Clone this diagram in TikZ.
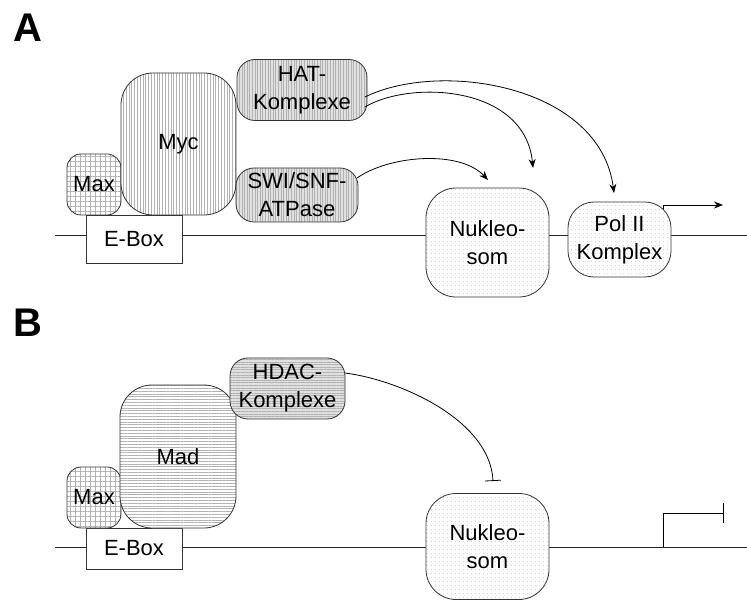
\documentclass[tikz,border=0pt]{standalone}
\usepackage{fontspec}
\setmainfont{Liberation Sans}
\usetikzlibrary{patterns.meta,arrows.meta}
\begin{document}
\begin{tikzpicture}[x=1pt,y=-1pt,
  every node/.style={font=\fontsize{22}{28}\selectfont, align=center, inner sep=0pt},
  prot/.style={draw=black!80, line width=0.8pt, rounded corners=#1},
  prot/.default=14pt,
  gridfill/.style={preaction={fill=white}, pattern={Hatch[distance=5pt,line width=0.4pt]}, pattern color=black!30},
  vfill/.style={preaction={fill=white}, pattern={Lines[angle=90,distance=2.8pt,line width=0.4pt]}, pattern color=black!30},
  vgray/.style={preaction={fill=black!12}, pattern={Lines[angle=90,distance=2.6pt,line width=0.4pt]}, pattern color=black!30},
  hfill/.style={preaction={fill=white}, pattern={Lines[angle=0,distance=2.8pt,line width=0.4pt]}, pattern color=black!30},
  hgray/.style={preaction={fill=black!12}, pattern={Lines[angle=0,distance=2.6pt,line width=0.4pt]}, pattern color=black!30},
  dotfill/.style={preaction={fill=white}, pattern={Dots[distance=4pt,radius=0.35pt]}, pattern color=black!40},
  dna/.style={line width=0.8pt, draw=black!85},
  act/.style={line width=0.8pt, -{Stealth[length=9pt,width=7pt]}},
  inh/.style={line width=0.8pt, -{Bar[width=16pt]}},
  panel/.style={font=\fontsize{40}{40}\selectfont\bfseries}
]
\useasboundingbox (0,0) rectangle (747,601);

% ---------- Panel A ----------
\node[panel] (labA) at (27.5,27.5) {A};
\coordinate (dnaAl) at (55,235);
\coordinate (dnaAr) at (747,235);
\draw[dna] (dnaAl) -- (dnaAr);
\coordinate (promA) at (663,235);
\coordinate (promAt) at (723,205);
\draw[act] (promA) |- (promAt);

\node[draw=black!80, line width=0.8pt, fill=white, minimum width=96pt, minimum height=48pt] (eboxA) at (134,239) {E-Box};
\node[prot=14pt, gridfill, minimum width=54pt, minimum height=61pt] (maxA) at (94,184.5) {Max};
\node[prot=32pt, vfill, minimum width=115pt, minimum height=142pt] (myc) at (178.5,144) {Myc};
\node[prot=18pt, vgray, minimum width=130pt, minimum height=61pt] (hat) at (302,90) {HAT-\\Komplexe};
\node[prot=18pt, vgray, minimum width=122pt, minimum height=54pt] (swi) at (297,195) {SWI/SNF-\\ATPase};
\node[prot=30pt, dotfill, minimum width=123pt, minimum height=109pt] (nucA) at (487.5,242.5) {Nukleo-\\som};
\node[prot=26pt, dotfill, minimum width=103pt, minimum height=75pt] (pol) at (619.5,239.5) {Pol II\\Komplex};

\coordinate (hatA1) at (365,97);
\coordinate (hatA2) at (365,107);
\coordinate (swiA) at (357,178);
\coordinate (tgt1) at (533,168);
\coordinate (tgt2) at (614,193);
\coordinate (tgt3) at (488,180);
\draw[act] (hatA1) .. controls (440,60) and (600,85) .. (tgt2);
\draw[act] (hatA2) .. controls (410,80) and (525,85) .. (tgt1);
\draw[act] (swiA) .. controls (390,155) and (460,150) .. (tgt3);

% ---------- Panel B ----------
\node[panel] (labB) at (28,322.5) {B};
\coordinate (dnaBl) at (55,547);
\coordinate (dnaBr) at (747,547);
\draw[dna] (dnaBl) -- (dnaBr);
\coordinate (promB) at (663,547);
\coordinate (promBt) at (724,513);
\draw[line width=0.8pt, -{Bar[width=20pt]}] (promB) |- (promBt);

\node[draw=black!80, line width=0.8pt, fill=white, minimum width=96pt, minimum height=41pt] (eboxB) at (134,548.5) {E-Box};
\node[prot=14pt, gridfill, minimum width=54pt, minimum height=61pt] (maxB) at (94,497.5) {Max};
\node[prot=32pt, hfill, minimum width=116pt, minimum height=143pt] (mad) at (178,456.5) {Mad};
\node[prot=18pt, hgray, minimum width=115pt, minimum height=61pt] (hdac) at (287.5,388.5) {HDAC-\\Komplexe};
\node[prot=30pt, dotfill, minimum width=123pt, minimum height=106pt] (nucB) at (487.5,546.5) {Nukleo-\\som};

\coordinate (hdacB) at (345,373);
\coordinate (tgtB) at (493,481);
\draw[inh] (hdacB) .. controls (400,380) and (490,420) .. (tgtB);
\end{tikzpicture}
\end{document}
